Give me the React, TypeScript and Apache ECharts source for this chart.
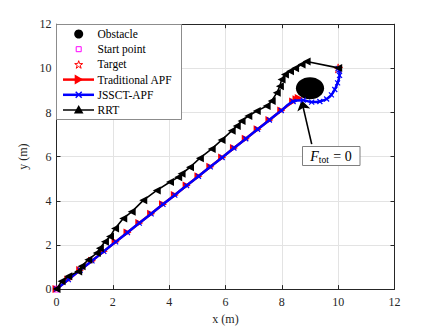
import React, { useEffect, useRef } from "react";
import * as echarts from "echarts";

const axisMin = 0;
const axisMax = 12;
const axisInterval = 2;

const startPoint: [number, number] = [0, 0];
const targetPoint: [number, number] = [10, 10];
const obstacleCenter: [number, number] = [9, 9.1];
const obstacleRadius = 0.5;

const traditionalAPF: [number, number][] = [
  [0, 0], [0.42, 0.43], [0.84, 0.86], [1.26, 1.28], [1.68, 1.71], [2.1, 2.14],
  [2.52, 2.56], [2.94, 2.99], [3.36, 3.41], [3.78, 3.84], [4.2, 4.26], [4.62, 4.69],
  [5.04, 5.11], [5.46, 5.54], [5.88, 5.96], [6.3, 6.39], [6.72, 6.81], [7.14, 7.24],
  [7.56, 7.66], [7.98, 8.09], [8.4, 8.5], [8.52, 8.6], [8.6, 8.66],
];

const jssctAPF: [number, number][] = [
  [0, 0], [0.42, 0.43], [0.84, 0.86], [1.26, 1.28], [1.68, 1.71], [2.1, 2.14],
  [2.52, 2.56], [2.94, 2.99], [3.36, 3.41], [3.78, 3.84], [4.2, 4.26], [4.62, 4.69],
  [5.04, 5.11], [5.46, 5.54], [5.88, 5.96], [6.3, 6.39], [6.72, 6.81], [7.14, 7.24],
  [7.56, 7.66], [7.98, 8.09], [8.4, 8.5], [8.76, 8.56], [9.06, 8.47], [9.35, 8.5],
  [9.59, 8.61], [9.76, 8.8], [9.88, 9.04], [9.98, 9.34], [10.05, 9.68], [10.03, 9.92],
  [10, 10],
];

const rrtPath: [number, number][] = [
  [0, 0], [0.18, 0.35], [0.42, 0.58], [0.77, 0.8], [0.89, 1.03], [1.13, 1.33],
  [1.43, 1.63], [1.54, 1.85], [1.72, 2.15], [1.9, 2.38], [2.08, 2.75], [2.37, 3.2],
  [2.67, 3.5], [3.08, 4.02], [3.56, 4.47], [4.03, 4.85], [4.32, 5.07], [4.44, 5.22],
  [4.74, 5.52], [5.09, 5.93], [5.51, 6.35], [5.86, 6.75], [6.22, 7.17], [6.4, 7.39],
  [6.57, 7.62], [6.81, 7.84], [7.11, 8.07], [7.46, 8.29], [7.64, 8.52], [7.82, 8.89],
  [7.93, 9.19], [7.99, 9.49], [8.11, 9.72], [8.29, 9.87], [8.47, 10.0], [8.7, 10.17],
  [8.88, 10.31], [10, 10.02],
];

const annotationTail: [number, number] = [9.06, 6.57];
const annotationHead: [number, number] = [8.7, 8.55];

const legendLabels = ["Obstacle", "Start point", "Target", "Traditional APF", "JSSCT-APF", "RRT"];

const FONT = "'Liberation Serif', 'Times New Roman', serif";
const AXIS_COLOR = "#262626";

function starPts(cx: number, cy: number, R: number): number[][] {
  const r = R * 0.382;
  const pts: number[][] = [];
  for (let i = 0; i < 10; i++) {
    const a = -Math.PI / 2 + (i * Math.PI) / 5;
    const rad = i % 2 === 0 ? R : r;
    pts.push([cx + rad * Math.cos(a), cy + rad * Math.sin(a)]);
  }
  return pts;
}

const starSymbol =
  "path://" +
  starPts(10, 10, 10)
    .map((p, i) => (i === 0 ? "M" : "L") + p[0].toFixed(2) + "," + p[1].toFixed(2))
    .join(" ") +
  " Z";

function buildLegend(): any[] {
  const els: any[] = [];
  const left = 56.5;
  const top = 24.5;
  els.push({
    type: "rect",
    shape: { x: left, y: top, width: 125, height: 95 },
    style: { fill: "#ffffff", stroke: "#8c8c8c", lineWidth: 1 },
    z: 100,
  });
  const rowY = [34, 49.2, 64.4, 79.6, 94.8, 110];
  const mx = 78.7;
  const lx1 = 63;
  const lx2 = 94;
  els.push({ type: "circle", shape: { cx: mx, cy: rowY[0], r: 4.5 }, style: { fill: "#000" }, z: 101 });
  els.push({
    type: "rect",
    shape: { x: mx - 2.5, y: rowY[1] - 2.5, width: 5, height: 5 },
    style: { fill: "none", stroke: "#ff00ff", lineWidth: 1 },
    z: 101,
  });
  els.push({
    type: "polygon",
    shape: { points: starPts(mx, rowY[2] + 0.5, 4.2) },
    style: { fill: "none", stroke: "#ff0000", lineWidth: 1 },
    z: 101,
  });
  els.push({
    type: "line",
    shape: { x1: lx1, y1: rowY[3], x2: lx2, y2: rowY[3] },
    style: { stroke: "#ff0000", lineWidth: 2.5 },
    z: 101,
  });
  els.push({
    type: "polygon",
    shape: { points: [[mx - 4, rowY[3] - 5], [mx + 4.5, rowY[3]], [mx - 4, rowY[3] + 5]] },
    style: { fill: "#ff0000" },
    z: 102,
  });
  els.push({
    type: "line",
    shape: { x1: lx1, y1: rowY[4], x2: lx2, y2: rowY[4] },
    style: { stroke: "#0000ff", lineWidth: 2.5 },
    z: 101,
  });
  els.push({
    type: "line",
    shape: { x1: mx - 3, y1: rowY[4] - 3, x2: mx + 3, y2: rowY[4] + 3 },
    style: { stroke: "#0000ff", lineWidth: 1.5 },
    z: 102,
  });
  els.push({
    type: "line",
    shape: { x1: mx - 3, y1: rowY[4] + 3, x2: mx + 3, y2: rowY[4] - 3 },
    style: { stroke: "#0000ff", lineWidth: 1.5 },
    z: 102,
  });
  els.push({
    type: "line",
    shape: { x1: lx1, y1: rowY[5], x2: lx2, y2: rowY[5] },
    style: { stroke: "#000", lineWidth: 1.5 },
    z: 101,
  });
  els.push({
    type: "polygon",
    shape: { points: [[mx, rowY[5] - 5], [mx + 4.8, rowY[5] + 3.5], [mx - 4.8, rowY[5] + 3.5]] },
    style: { fill: "#000" },
    z: 102,
  });
  legendLabels.forEach((t, i) => {
    els.push({
      type: "text",
      x: 97.5,
      y: rowY[i],
      style: {
        text: t,
        font: "11.5px 'Liberation Serif', serif",
        fill: "#000",
        verticalAlign: "middle",
        align: "left",
      },
      z: 103,
    });
  });
  return els;
}

function buildAnnotation(): any[] {
  return [
    {
      type: "rect",
      shape: { x: 302.5, y: 146.5, width: 57.5, height: 19 },
      style: { fill: "#ffffff", stroke: "#7f7f7f", lineWidth: 1 },
      z: 100,
    },
    {
      type: "text",
      x: 331,
      y: 156,
      style: {
        text: "{f|F}{s|tot}{n| = 0}",
        font: "13.5px 'Liberation Serif', serif",
        align: "center",
        verticalAlign: "middle",
        rich: {
          f: { font: "italic 14px 'Liberation Serif', serif", fill: "#000" },
          s: { font: "9.5px 'Liberation Serif', serif", fill: "#000", padding: [7, 1, 0, 0] },
          n: { font: "14px 'Liberation Serif', serif", fill: "#000" },
        },
      },
      z: 101,
    },
  ];
}

export default function App() {
  const ref = useRef<HTMLDivElement>(null);
  useEffect(() => {
    if (!ref.current) return;
    const chart = echarts.init(ref.current, undefined, { renderer: "svg" });
    const axisCommon = {
      type: "value" as const,
      min: axisMin,
      max: axisMax,
      interval: axisInterval,
    };
    chart.setOption({
      animation: false,
      textStyle: { fontFamily: FONT },
      grid: { left: 56.5, right: 41.5, top: 24.2, bottom: 38.8, containLabel: false },
      xAxis: [
        {
          ...axisCommon,
          position: "bottom",
          name: "x (m)",
          nameLocation: "middle",
          nameGap: 22,
          nameTextStyle: { fontFamily: FONT, fontSize: 12, color: AXIS_COLOR },
          axisLine: { show: true, onZero: false, lineStyle: { color: AXIS_COLOR, width: 1 } },
          axisTick: { show: true, inside: true, length: 4, lineStyle: { color: AXIS_COLOR } },
          axisLabel: { fontFamily: FONT, fontSize: 12, color: AXIS_COLOR, margin: 7 },
          splitLine: { show: true, lineStyle: { color: "#e3e3e3", width: 1 } },
        },
        {
          ...axisCommon,
          position: "top",
          axisLine: { show: true, onZero: false, lineStyle: { color: AXIS_COLOR, width: 1 } },
          axisTick: { show: true, inside: true, length: 4, lineStyle: { color: AXIS_COLOR } },
          axisLabel: { show: false },
          splitLine: { show: false },
        },
      ],
      yAxis: [
        {
          ...axisCommon,
          position: "left",
          name: "y (m)",
          nameLocation: "middle",
          nameGap: 18,
          nameTextStyle: { fontFamily: FONT, fontSize: 12, color: AXIS_COLOR },
          axisLine: { show: true, onZero: false, lineStyle: { color: AXIS_COLOR, width: 1 } },
          axisTick: { show: true, inside: true, length: 4, lineStyle: { color: AXIS_COLOR } },
          axisLabel: { fontFamily: FONT, fontSize: 12, color: AXIS_COLOR, margin: 5 },
          splitLine: { show: true, lineStyle: { color: "#e3e3e3", width: 1 } },
        },
        {
          ...axisCommon,
          position: "right",
          axisLine: { show: true, onZero: false, lineStyle: { color: AXIS_COLOR, width: 1 } },
          axisTick: { show: true, inside: true, length: 4, lineStyle: { color: AXIS_COLOR } },
          axisLabel: { show: false },
          splitLine: { show: false },
        },
      ],
      series: [
        {
          name: "Obstacle",
          type: "custom",
          xAxisIndex: 0,
          yAxisIndex: 0,
          data: [obstacleCenter],
          renderItem: (params: any, api: any) => {
            const c = api.coord([api.value(0), api.value(1)]);
            const s = api.size([obstacleRadius, obstacleRadius]);
            return {
              type: "ellipse",
              shape: { cx: c[0], cy: c[1], rx: s[0], ry: s[1] },
              style: { fill: "#000000" },
            };
          },
          z: 2,
        },
        {
          name: "Start point",
          type: "scatter",
          data: [startPoint],
          symbol: "rect",
          symbolSize: 6,
          itemStyle: { color: "none", borderColor: "#ff00ff", borderWidth: 1 },
          z: 3,
        },
        {
          name: "Target",
          type: "scatter",
          data: [targetPoint],
          symbol: starSymbol,
          symbolSize: 9,
          itemStyle: { color: "none", borderColor: "#ff0000", borderWidth: 1 },
          z: 3,
        },
        {
          name: "Traditional APF",
          type: "line",
          data: traditionalAPF,
          showSymbol: true,
          symbol: "triangle",
          symbolRotate: -90,
          symbolSize: 8,
          lineStyle: { color: "#ff0000", width: 2.5 },
          itemStyle: { color: "#ff0000" },
          z: 4,
          markLine: {
            silent: true,
            symbol: ["none", "arrow"],
            symbolSize: 10,
            lineStyle: { color: "#000000", width: 1.6, type: "solid" },
            label: { show: false },
            data: [[{ coord: annotationTail }, { coord: annotationHead }]],
          },
        },
        {
          name: "JSSCT-APF",
          type: "line",
          data: jssctAPF,
          showSymbol: true,
          symbol: "path://M0,0 L10,10 M10,0 L0,10",
          symbolSize: 5,
          smooth: 0.3,
          lineStyle: { color: "#0000ff", width: 2.5 },
          itemStyle: { color: "#0000ff", borderColor: "#0000ff", borderWidth: 1.2 },
          z: 5,
        },
        {
          name: "RRT",
          type: "line",
          data: rrtPath,
          showSymbol: true,
          symbol: "triangle",
          symbolRotate: 90,
          symbolSize: 8,
          lineStyle: { color: "#000000", width: 1.6 },
          itemStyle: { color: "#000000" },
          z: 6,
        },
      ],
      graphic: [...buildLegend(), ...buildAnnotation()],
    });
    return () => chart.dispose();
  }, []);
  return (
    <div
      ref={ref}
      style={{ position: "fixed", left: 0, top: 0, width: 436, height: 330, background: "#fff" }}
    />
  );
}
